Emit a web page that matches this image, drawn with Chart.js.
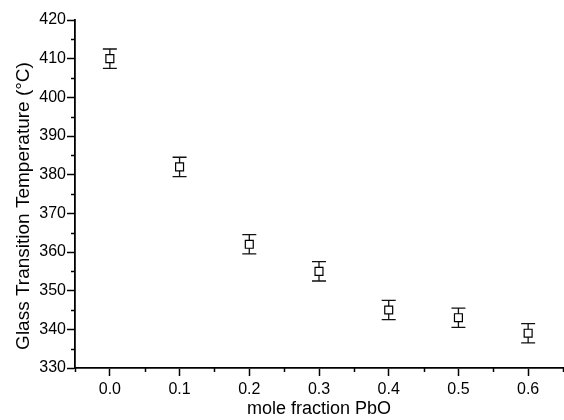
<!DOCTYPE html>
<html>
<head>
<meta charset="utf-8">
<script src="https://cdn.jsdelivr.net/npm/chart.js@4.4.1/dist/chart.umd.min.js"></script>
<style>
  body { margin: 0; background: #fff; }
  #wrap { width: 564px; height: 420px; }
</style>
</head>
<body>
<div id="wrap"><canvas id="tg-chart" width="564" height="420"></canvas></div>
<script>
var moleFraction = [0.0, 0.1, 0.2, 0.3, 0.4, 0.5, 0.6];
var tg = [410, 382, 362, 355, 345, 343, 339];
var tgErr = [2.5, 2.5, 2.5, 2.5, 2.5, 2.5, 2.5];
var xTicks = [0.0, 0.1, 0.2, 0.3, 0.4, 0.5, 0.6];
var xMinor = [-0.05, 0.05, 0.15, 0.25, 0.35, 0.45, 0.55, 0.65];
var yTicks = [330, 340, 350, 360, 370, 380, 390, 400, 410, 420];
var yMinor = [335, 345, 355, 365, 375, 385, 395, 405, 415];
var yTitle = 'Glass Transition Temperature (°C)';

var FONT = "'Liberation Sans', Arial, sans-serif";

// error bars, drawn under the markers
var errorBars = {
    id: 'errorBars',
    beforeDatasetsDraw: function (chart) {
        var c = chart.ctx, xs = chart.scales.x, ys = chart.scales.y;
        c.save();
        c.strokeStyle = '#111';
        c.lineWidth = 1.3;
        for (var i = 0; i < tg.length; i++) {
            var px = xs.getPixelForValue(moleFraction[i]);
            var top = ys.getPixelForValue(tg[i] + tgErr[i]);
            var bot = ys.getPixelForValue(tg[i] - tgErr[i]);
            c.beginPath();
            c.moveTo(px, top); c.lineTo(px, bot);
            c.moveTo(px - 7, top); c.lineTo(px + 7, top);
            c.moveTo(px - 7, bot); c.lineTo(px + 7, bot);
            c.stroke();
        }
        c.restore();
    }
};

// short minor ticks + the y title (sits a bit below centre in the original)
var extras = {
    id: 'extras',
    afterDraw: function (chart) {
        var c = chart.ctx, xs = chart.scales.x, ys = chart.scales.y;
        var a = chart.chartArea;
        c.save();
        c.strokeStyle = '#000';
        c.lineWidth = 1.5;
        c.beginPath();
        xMinor.forEach(function (v) {
            var px = Math.round(xs.getPixelForValue(v)) + 0.5;
            c.moveTo(px, a.bottom); c.lineTo(px, a.bottom + 4);
        });
        yMinor.forEach(function (v) {
            var py = Math.round(ys.getPixelForValue(v)) + 0.5;
            c.moveTo(a.left, py); c.lineTo(a.left - 4, py);
        });
        c.stroke();

        c.translate(24, (a.top + a.bottom) / 2 + 12);
        c.rotate(-Math.PI / 2);
        c.fillStyle = '#000';
        c.font = '19px ' + FONT;
        c.textAlign = 'center';
        c.textBaseline = 'middle';
        c.fillText(yTitle, 0, 0);
        c.restore();
    }
};

var ctx = document.getElementById('tg-chart');

var myChart = new Chart(ctx, {
    type: 'scatter',
    data: {
        datasets: [{
            label: 'Tg',
            data: moleFraction.map(function (x, i) { return { x: x, y: tg[i] }; }),
            pointStyle: 'rect',
            pointRadius: 5.6,
            pointHoverRadius: 5.6,
            backgroundColor: '#fff',
            borderColor: '#000',
            borderWidth: 1.2
        }]
    },
    options: {
        responsive: false,
        animation: false,
        events: [],
        layout: { autoPadding: false, padding: { top: 20, right: 1, left: 0, bottom: 0 } },
        plugins: { legend: { display: false }, tooltip: { enabled: false } },
        scales: {
            x: {
                type: 'linear',
                min: -0.05,
                max: 0.65,
                afterBuildTicks: function (s) { s.ticks = xTicks.map(function (v) { return { value: v }; }); },
                afterFit: function (s) { s.height = 52; s.paddingLeft = 0; s.paddingRight = 0; },
                grid: { drawOnChartArea: false, tickLength: 8, tickColor: '#000', tickWidth: 1.5 },
                border: { color: '#000', width: 1.8 },
                ticks: {
                    color: '#000', padding: 4, maxRotation: 0, autoSkip: false,
                    font: { family: FONT, size: 16 },
                    callback: function (v) { return v.toFixed(1); }
                },
                title: {
                    display: true, text: 'mole fraction PbO', color: '#000',
                    font: { family: FONT, size: 18 }, padding: { top: 0, bottom: 0 }
                }
            },
            y: {
                min: 330,
                max: 420,
                afterBuildTicks: function (s) { s.ticks = yTicks.map(function (v) { return { value: v }; }); },
                afterFit: function (s) { s.width = 75; },
                grid: { drawOnChartArea: false, tickLength: 8, tickColor: '#000', tickWidth: 1.5 },
                border: { color: '#000', width: 1.8 },
                ticks: {
                    color: '#000', padding: 1, autoSkip: false,
                    font: { family: FONT, size: 16 }
                },
                title: { display: false }
            }
        }
    },
    plugins: [errorBars, extras]
});
</script>
</body>
</html>
